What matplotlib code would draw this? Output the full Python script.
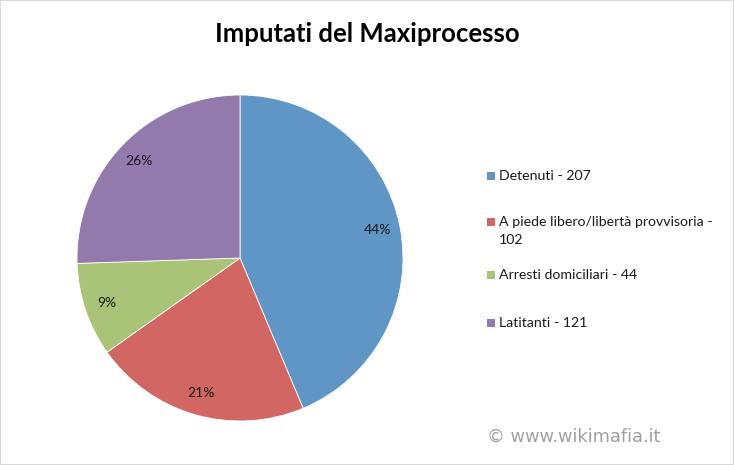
import math
import matplotlib
matplotlib.use("Agg")
import matplotlib.pyplot as plt
from matplotlib.patches import Rectangle

# Data
categories = ["Detenuti", "A piede libero/libertà provvisoria", "Arresti domiciliari", "Latitanti"]
counts = [207, 102, 44, 121]
pct_labels = ["44%", "21%", "9%", "26%"]
colors = ["#5F96C5", "#D16662", "#A9C477", "#927AAC"]

plt.rcParams["font.family"] = ["Lato", "DejaVu Sans"]

W, H = 734, 465
fig = plt.figure(figsize=(W / 100, H / 100), dpi=100)

# pie centre (240, 258) px, radius 163 px
r = 163
ax = fig.add_axes([(240 - r) / W, (H - 258 - r) / H, 2 * r / W, 2 * r / H])
wedges, texts = ax.pie(
    counts, colors=colors, startangle=90, counterclock=False, radius=1.0,
    wedgeprops={"linewidth": 0.6, "edgecolor": "white"},
)
# percentage labels, Excel style (rounded to sum 100)
for w, lab in zip(wedges, pct_labels):
    a = math.radians((w.theta1 + w.theta2) / 2)
    ax.text(0.86 * math.cos(a), 0.86 * math.sin(a), lab, ha="center", va="center",
            fontsize=10, color="#1a1a1a")
ax.set_xlim(-1, 1)
ax.set_ylim(-1, 1)
ax.set_aspect("equal")

fig.text(367 / W, 1 - 34 / H, "Imputati del Maxiprocesso", ha="center", va="center",
         fontsize=18.5, fontweight="bold", color="black")

# legend drawn by hand to keep Excel-like spacing
legend_labels = [f"{c} - {n}" for c, n in zip(categories, counts)]
legend_labels[1] = "A piede libero/libertà provvisoria -\n" + str(counts[1])
legend_y = [176, 222, 275, 323]
for lab, col, y in zip(legend_labels, colors, legend_y):
    fig.patches.append(Rectangle((487 / W, 1 - (y + 4) / H), 8 / W, 8 / H,
                                 transform=fig.transFigure, facecolor=col, edgecolor="none"))
    fig.text(499 / W, 1 - (y - 6) / H, lab, ha="left", va="top", fontsize=10.2,
             color="#1a1a1a", linespacing=1.6)

fig.text(487 / W, 1 - 437 / H, "© www.wikimafia.it", ha="left", va="center",
         fontsize=12.8, color="#A0A0A0", family="DejaVu Sans")

fig.patches.append(Rectangle((0, 0), 1, 1, transform=fig.transFigure, fill=False,
                             edgecolor="#D9D9D9", linewidth=1.5))

fig.savefig("out.png", dpi=100, facecolor="white")
